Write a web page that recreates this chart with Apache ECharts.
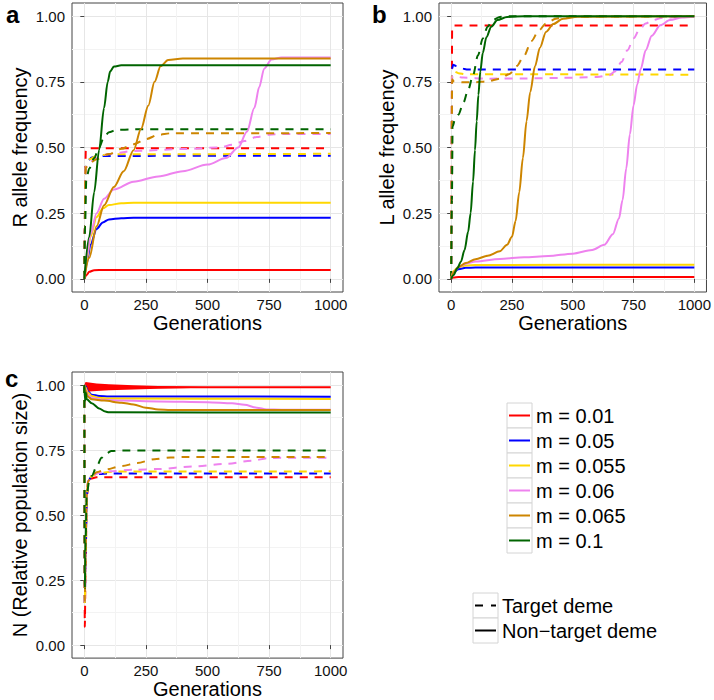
<!DOCTYPE html>
<html>
<head>
<meta charset="utf-8">
<script src="https://cdn.jsdelivr.net/npm/echarts@6/dist/echarts.min.js"></script>
<style>
html, body { margin: 0; padding: 0; background: #fff; }
#main { width: 714px; height: 700px; }
</style>
</head>
<body>
<div id="main"></div>
<script>
// legend / colours
const mLabels = ['m = 0.01', 'm = 0.05', 'm = 0.055', 'm = 0.06', 'm = 0.065', 'm = 0.1'];
const mColors = ['#ff0000', '#0000ff', '#ffd700', '#ee82ee', '#cd8500', '#006400'];
const demeLabels = ['Target deme', 'Non\u2212target deme'];

// axis ticks
const xTicks = [0, 250, 500, 750, 1000];
const xMinor = [125, 375, 625, 875];
const yTicks = [0, 0.25, 0.5, 0.75, 1];
const yMinor = [0.125, 0.375, 0.625, 0.875];

// panel a: R allele frequency, [generation, value], order = mLabels
const aTarget = [
  [[0, 0], [2, 0.2], [4, 0.42], [6, 0.49], [10, 0.497], [1000, 0.497]],
  [[0, 0], [2, 0.2], [4, 0.4], [7, 0.435], [15, 0.45], [30, 0.462], [60, 0.468], [1000, 0.469]],
  [[0, 0], [2, 0.2], [4, 0.4], [7, 0.435], [20, 0.455], [50, 0.468], [100, 0.474], [1000, 0.476]],
  [[0, 0], [2, 0.2], [4, 0.4], [7, 0.425], [15, 0.44], [50, 0.46], [100, 0.475], [200, 0.487], [400, 0.494], [550, 0.5], [600, 0.51], [650, 0.525], [700, 0.54], [750, 0.549], [800, 0.551], [1000, 0.551]],
  [[0, 0], [2, 0.2], [4, 0.4], [7, 0.425], [20, 0.44], [50, 0.455], [100, 0.475], [150, 0.495], [200, 0.512], [250, 0.532], [300, 0.548], [350, 0.554], [1000, 0.555]],
  [[0, 0], [3, 0.2], [8, 0.38], [20, 0.42], [40, 0.46], [60, 0.5], [80, 0.54], [100, 0.558], [130, 0.567], [200, 0.569], [1000, 0.569]]
];
const aNonTarget = [
  [[0, 0], [10, 0.015], [20, 0.027], [40, 0.033], [80, 0.034], [1000, 0.034]],
  [[0, 0], [10, 0.06], [25, 0.13], [50, 0.19], [75, 0.215], [100, 0.226], [150, 0.231], [200, 0.233], [1000, 0.233]],
  [[0, 0], [10, 0.07], [25, 0.16], [50, 0.235], [75, 0.268], [100, 0.281], [150, 0.288], [200, 0.29], [1000, 0.29]],
  [[0, 0], [10, 0.08], [25, 0.17], [50, 0.25], [80, 0.305], [120, 0.34], [200, 0.37], [300, 0.39], [400, 0.41], [500, 0.435], [575, 0.46], [625, 0.5], [660, 0.56], [690, 0.65], [710, 0.73], [730, 0.8], [760, 0.835], [800, 0.843], [1000, 0.843]],
  [[0, 0], [20, 0.08], [50, 0.2], [80, 0.28], [120, 0.35], [160, 0.41], [200, 0.49], [230, 0.57], [260, 0.66], [285, 0.75], [310, 0.81], [340, 0.833], [400, 0.839], [1000, 0.839]],
  [[0, 0], [20, 0.16], [40, 0.33], [60, 0.49], [80, 0.65], [95, 0.75], [105, 0.79], [120, 0.808], [150, 0.813], [1000, 0.813]]
];

// panel b: L allele frequency
const bTarget = [
  [[0, 0], [2, 0.5], [4, 0.955], [8, 0.964], [1000, 0.964]],
  [[0, 0], [2, 0.4], [4, 0.8], [8, 0.815], [20, 0.81], [40, 0.801], [70, 0.797], [1000, 0.797]],
  [[0, 0], [2, 0.4], [4, 0.78], [10, 0.79], [30, 0.783], [60, 0.779], [1000, 0.777]],
  [[0, 0], [2, 0.4], [4, 0.77], [10, 0.772], [50, 0.766], [150, 0.762], [300, 0.763], [450, 0.765], [600, 0.768], [650, 0.775], [675, 0.79], [700, 0.825], [725, 0.87], [750, 0.915], [775, 0.95], [800, 0.972], [830, 0.985], [870, 0.994], [950, 0.998], [1000, 1]],
  [[0, 0], [2, 0.4], [4, 0.76], [10, 0.752], [50, 0.748], [100, 0.748], [150, 0.752], [200, 0.762], [240, 0.78], [270, 0.81], [300, 0.85], [330, 0.905], [360, 0.945], [390, 0.972], [430, 0.99], [480, 0.998], [1000, 1]],
  [[0, 0], [3, 0.3], [6, 0.58], [15, 0.605], [30, 0.625], [50, 0.67], [70, 0.72], [90, 0.775], [110, 0.85], [130, 0.915], [150, 0.96], [170, 0.985], [200, 0.997], [250, 1], [1000, 1]]
];
const bNonTarget = [
  [[0, 0], [10, 0.005], [30, 0.007], [1000, 0.007]],
  [[0, 0], [10, 0.025], [30, 0.037], [60, 0.042], [100, 0.043], [1000, 0.043]],
  [[0, 0], [10, 0.03], [30, 0.045], [60, 0.051], [100, 0.053], [1000, 0.054]],
  [[0, 0], [10, 0.025], [30, 0.045], [60, 0.058], [100, 0.066], [200, 0.076], [300, 0.082], [400, 0.087], [500, 0.096], [580, 0.11], [630, 0.13], [665, 0.17], [690, 0.23], [705, 0.3], [720, 0.42], [735, 0.55], [750, 0.66], [765, 0.74], [780, 0.8], [800, 0.87], [825, 0.925], [860, 0.965], [900, 0.985], [950, 0.995], [1000, 0.998]],
  [[0, 0], [10, 0.025], [30, 0.045], [60, 0.06], [100, 0.075], [150, 0.088], [200, 0.105], [230, 0.13], [250, 0.16], [265, 0.22], [280, 0.33], [295, 0.46], [310, 0.6], [325, 0.71], [345, 0.81], [365, 0.88], [390, 0.94], [420, 0.97], [460, 0.99], [520, 0.998], [1000, 1]],
  [[0, 0], [10, 0.015], [25, 0.04], [40, 0.065], [55, 0.11], [70, 0.18], [80, 0.25], [90, 0.37], [98, 0.49], [105, 0.6], [112, 0.7], [120, 0.79], [130, 0.86], [145, 0.92], [165, 0.96], [190, 0.985], [230, 0.997], [300, 1], [1000, 1]]
];

// panel c: N (relative population size)
const cTarget = [
  [[0, 1], [2, 0.07], [5, 0.3], [10, 0.55], [15, 0.62], [25, 0.64], [50, 0.645], [1000, 0.645]],
  [[0, 1], [2, 0.15], [5, 0.35], [10, 0.57], [15, 0.63], [30, 0.65], [60, 0.658], [100, 0.66], [1000, 0.66]],
  [[0, 1], [2, 0.16], [5, 0.35], [10, 0.57], [15, 0.63], [30, 0.65], [60, 0.662], [120, 0.667], [1000, 0.668]],
  [[0, 1], [2, 0.17], [5, 0.36], [10, 0.58], [15, 0.63], [30, 0.65], [60, 0.662], [100, 0.668], [200, 0.674], [300, 0.677], [440, 0.687], [575, 0.697], [680, 0.709], [750, 0.719], [800, 0.72], [1000, 0.72]],
  [[0, 1], [2, 0.17], [5, 0.36], [10, 0.58], [15, 0.63], [30, 0.65], [50, 0.665], [85, 0.675], [150, 0.688], [215, 0.7], [285, 0.715], [350, 0.721], [400, 0.723], [1000, 0.723]],
  [[0, 1], [2, 0.22], [5, 0.4], [10, 0.58], [20, 0.63], [30, 0.65], [50, 0.687], [70, 0.72], [90, 0.738], [110, 0.746], [150, 0.748], [1000, 0.748]]
];
const cNonTarget = [
  [[0, 1], [5, 0.995], [50, 0.992], [1000, 0.991]],
  [[0, 1], [5, 0.995], [15, 0.975], [30, 0.963], [60, 0.958], [100, 0.956], [1000, 0.955]],
  [[0, 1], [5, 0.99], [15, 0.97], [30, 0.958], [60, 0.951], [100, 0.948], [1000, 0.946]],
  [[0, 1], [5, 0.985], [15, 0.962], [30, 0.95], [80, 0.943], [150, 0.94], [300, 0.937], [500, 0.934], [600, 0.93], [650, 0.924], [700, 0.913], [740, 0.906], [800, 0.905], [1000, 0.905]],
  [[0, 1], [5, 0.98], [15, 0.955], [30, 0.945], [80, 0.94], [150, 0.932], [200, 0.925], [250, 0.913], [300, 0.906], [350, 0.904], [1000, 0.904]],
  [[0, 1], [3, 0.94], [6, 0.97], [10, 0.945], [30, 0.93], [60, 0.91], [85, 0.898], [100, 0.895], [1000, 0.894]]
];
// oscillation envelope of the m = 0.01 non-target line in panel c
const cRedBandTop = [[0, 1], [5, 1.012], [50, 1.006], [100, 1.003], [200, 0.999], [300, 0.996], [400, 0.994], [500, 0.992]];
const cRedBandBottom = [[5, 0.974], [50, 0.977], [100, 0.98], [200, 0.983], [300, 0.986], [400, 0.988], [500, 0.99]];

const font = '"Liberation Sans", Arial, sans-serif';
const chart = echarts.init(document.getElementById('main'), null, { renderer: 'svg' });

const panels = [
  { letter: 'a', grid: { left: 72, top: 3, width: 271, height: 289 }, yName: 'R allele frequency', target: aTarget, nonTarget: aNonTarget },
  { letter: 'b', grid: { left: 439, top: 3, width: 269, height: 289 }, yName: 'L allele frequency', target: bTarget, nonTarget: bNonTarget },
  { letter: 'c', grid: { left: 72, top: 372, width: 271, height: 287 }, yName: 'N (Relative population size)', target: cTarget, nonTarget: cNonTarget }
];

const grids = [], xAxes = [], yAxes = [], series = [];

panels.forEach((p, k) => {
  grids.push(Object.assign({ show: true, borderColor: '#444', borderWidth: 1, backgroundColor: '#fff', containLabel: false }, p.grid));

  xAxes.push({
    gridIndex: k, type: 'value', min: -50, max: 1050,
    axisLine: { show: false },
    axisTick: { show: true, length: 4, customValues: xTicks, lineStyle: { color: '#444' } },
    axisLabel: { customValues: xTicks, fontSize: 15, color: '#111', margin: 5, fontFamily: font, formatter: v => String(v) },
    splitLine: { show: true, lineStyle: { color: '#e6e6e6', width: 1 } },
    name: 'Generations', nameLocation: 'middle', nameGap: 15,
    nameTextStyle: { fontSize: 20, color: '#000', fontFamily: font, verticalAlign: 'top' }
  });
  xAxes.push({
    gridIndex: k, type: 'value', min: -50, max: 1050, position: 'bottom',
    axisLine: { show: false },
    axisTick: { show: false, customValues: xMinor },
    axisLabel: { show: false, customValues: xMinor },
    splitLine: { show: true, lineStyle: { color: '#f3f3f3', width: 1 } }
  });
  yAxes.push({
    gridIndex: k, type: 'value', min: -0.05, max: 1.05,
    axisLine: { show: false },
    axisTick: { show: true, length: 4, customValues: yTicks, lineStyle: { color: '#444' } },
    axisLabel: { customValues: yTicks, fontSize: 15, color: '#111', margin: 7, fontFamily: font, formatter: v => v.toFixed(2) },
    splitLine: { show: true, lineStyle: { color: '#e6e6e6', width: 1 } },
    name: p.yName, nameLocation: 'middle', nameGap: 42,
    nameTextStyle: { fontSize: 20, color: '#000', fontFamily: font }
  });
  yAxes.push({
    gridIndex: k, type: 'value', min: -0.05, max: 1.05, position: 'left',
    axisLine: { show: false },
    axisTick: { show: false, customValues: yMinor },
    axisLabel: { show: false, customValues: yMinor },
    splitLine: { show: true, lineStyle: { color: '#f3f3f3', width: 1 } }
  });

  const lineBase = { type: 'line', xAxisIndex: 2 * k, yAxisIndex: 2 * k, showSymbol: false, symbol: 'none',
    smooth: 0.3, smoothMonotone: 'x', silent: true, animation: false };

  p.target.forEach((d, i) => {
    series.push(Object.assign({}, lineBase, {
      name: mLabels[i] + ' target', data: d,
      lineStyle: { color: mColors[i], width: 2, type: [8, 7] }
    }));
  });
  if (k === 2) {
    const poly = cRedBandTop.concat(cRedBandBottom.slice().reverse());
    series.push({
      type: 'custom', xAxisIndex: 4, yAxisIndex: 4, silent: true, animation: false,
      data: poly,
      renderItem: function (params, api) {
        if (params.dataIndex !== 0) return null;
        return { type: 'polygon', shape: { points: poly.map(pt => api.coord(pt)) }, style: { fill: mColors[0] } };
      }
    });
  }
  p.nonTarget.forEach((d, i) => {
    series.push(Object.assign({}, lineBase, {
      name: mLabels[i], data: d,
      lineStyle: { color: mColors[i], width: 2 }
    }));
  });
});

// panel letters and legends
const graphics = [];
[['a', 6, 2], ['b', 372, 2], ['c', 5, 366]].forEach(([t, x, y]) => {
  graphics.push({ type: 'text', x: x, y: y, style: { text: t, fontSize: 24, fontWeight: 'bold', fontFamily: font, fill: '#000', verticalAlign: 'top' } });
});

const keySize = 25;
const mKeyX = 507, mKeyY = 403;
mLabels.forEach((lab, i) => {
  const y = mKeyY + i * keySize;
  graphics.push({ type: 'rect', shape: { x: mKeyX, y: y, width: keySize, height: keySize }, style: { fill: '#fff', stroke: '#d4d4d4', lineWidth: 1 } });
  graphics.push({ type: 'line', shape: { x1: mKeyX + 2, y1: y + 12.5, x2: mKeyX + 23, y2: y + 12.5 }, style: { stroke: mColors[i], lineWidth: 2 } });
  graphics.push({ type: 'text', x: mKeyX + 29, y: y + 12.5, style: { text: lab, fontSize: 20, fontFamily: font, fill: '#000', verticalAlign: 'middle' } });
});

const dKeyX = 473, dKeyY = 593;
demeLabels.forEach((lab, i) => {
  const y = dKeyY + i * keySize;
  graphics.push({ type: 'rect', shape: { x: dKeyX, y: y, width: keySize, height: keySize }, style: { fill: '#fff', stroke: '#d4d4d4', lineWidth: 1 } });
  graphics.push({ type: 'line', shape: { x1: dKeyX + 2, y1: y + 12.5, x2: dKeyX + 23, y2: y + 12.5 },
    style: { stroke: '#000', lineWidth: 2, lineDash: i === 0 ? [8, 8] : null } });
  graphics.push({ type: 'text', x: dKeyX + 29, y: y + 12.5, style: { text: lab, fontSize: 20, fontFamily: font, fill: '#000', verticalAlign: 'middle' } });
});

chart.setOption({
  animation: false,
  backgroundColor: '#fff',
  textStyle: { fontFamily: font },
  grid: grids,
  xAxis: xAxes,
  yAxis: yAxes,
  series: series,
  graphic: graphics
});
</script>
</body>
</html>
